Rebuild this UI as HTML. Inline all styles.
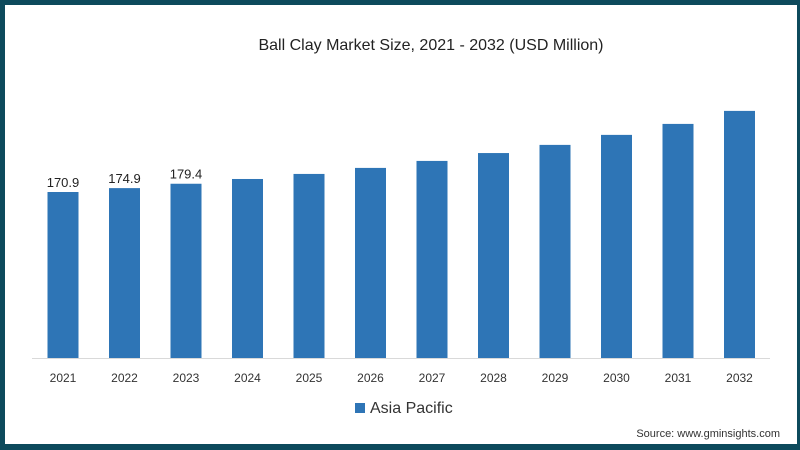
<!DOCTYPE html>
<html><head><meta charset="utf-8"><style>
body{margin:0;width:800px;height:450px;overflow:hidden;font-family:"Liberation Sans",sans-serif}
#frame{position:absolute;left:0;top:0;width:800px;height:450px;box-sizing:border-box;border:5px solid #0d4a5c;border-right-width:3px;border-bottom-width:6px;background:#fff}
</style></head><body>
<div id="frame"></div>
<svg id="chart" width="800" height="450" style="position:absolute;left:0;top:0">
<text x="431" y="50" text-anchor="middle" font-size="16" fill="#222">Ball Clay Market Size, 2021 - 2032 (USD Million)</text>
<line x1="32" y1="358.5" x2="770" y2="358.5" stroke="#d9d9d9" stroke-width="1"/>
<g id="bars"></g>
<rect x="355" y="403" width="10" height="10" fill="#2e75b6"/>
<text x="370" y="413" font-size="16" fill="#333">Asia Pacific</text>
<text x="780" y="437" text-anchor="end" font-size="11" fill="#333">Source: www.gminsights.com</text>
</svg>
<script>
const categories=["2021","2022","2023","2024","2025","2026","2027","2028","2029","2030","2031","2032"];
const values=[170.9,174.9,179.4,184.3,189.5,195.7,202.9,211,219.4,229.7,241,254.4];
const labels=["170.9","174.9","179.4","","","","","","","","",""];
const g=document.getElementById('bars');
const NS="http://www.w3.org/2000/svg";
const baseY=358, pxPerUnit=166/170.9;
const xc=i=>63+i*61.5;
const yv=v=>baseY-v*pxPerUnit;
categories.forEach((c,i)=>{
  const r=document.createElementNS(NS,'rect');
  r.setAttribute('x',xc(i)-15.5);r.setAttribute('width',31);
  r.setAttribute('y',yv(values[i]));r.setAttribute('height',baseY-yv(values[i]));
  r.setAttribute('fill','#2e75b6');
  
  
  g.appendChild(r);
  const t=document.createElementNS(NS,'text');
  t.setAttribute('x',xc(i));t.setAttribute('y',382);t.setAttribute('text-anchor','middle');
  t.setAttribute('font-size','12');t.setAttribute('fill','#333');t.textContent=c;
  
  
  g.appendChild(t);
  if(labels[i]){
    const l=document.createElementNS(NS,'text');
    l.setAttribute('x',xc(i));l.setAttribute('y',yv(values[i])-5);l.setAttribute('text-anchor','middle');
    l.setAttribute('font-size','13');l.setAttribute('fill','#222');l.textContent=labels[i];
    
    
    g.appendChild(l);
  }
});
</script>
</body></html>
